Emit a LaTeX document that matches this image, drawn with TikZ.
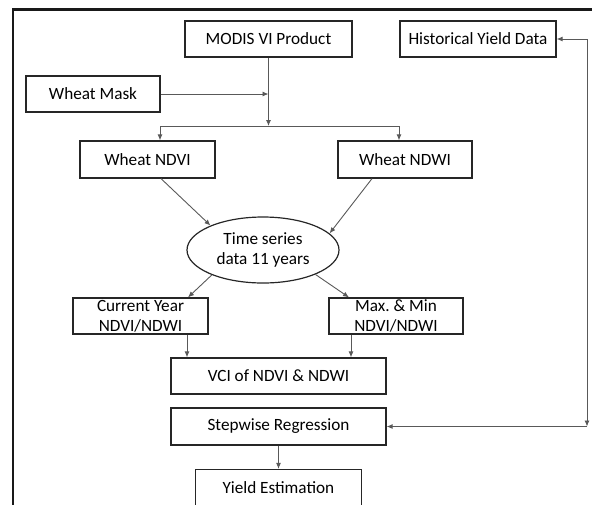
\documentclass[tikz,border=0pt]{standalone}
\usepackage{fontspec}
\setmainfont{Carlito}
\usetikzlibrary{arrows.meta,shapes.geometric}
\begin{document}
\begin{tikzpicture}[x=1pt,y=-1pt,
	every node/.style={font=\fontsize{17.2}{20}\selectfont,align=center,inner sep=0pt,draw=black!85,line width=1.2pt},
	box/.style={rectangle,minimum height=36pt},
	arr/.style={-{Latex[length=6pt,width=5pt]},draw=black!65,line width=0.9pt}]
		\clip (0,0) rectangle (592,504);
		\draw[line width=2.5pt,black!90] (13,9.5) rectangle (640,540);

		\node[box,minimum width=167pt] (modis) at (268.5,39)  {MODIS VI Product};
		\node[box,minimum width=156pt] (hist)  at (478,39)    {Historical Yield Data};
		\node[box,minimum width=134pt] (mask)  at (93,94)     {Wheat Mask};
		\node[box,minimum width=135pt,minimum height=37pt] (ndvi) at (147.5,159.5) {Wheat NDVI};
		\node[box,minimum width=134pt,minimum height=37pt] (ndwi) at (405,159.5)   {Wheat NDWI};
		\node[ellipse,minimum width=152pt,minimum height=66pt] (ts) at (263,250) {Time series\\data 11 years};
		\node[box,minimum width=135pt,inner ysep=-1pt] (cur) at (140.5,316) {Current Year\\NDVI/NDWI};
		\node[box,minimum width=134pt,inner ysep=-1pt] (mm)  at (396,316)   {Max.\ \& Min\\NDVI/NDWI};
		\node[box,minimum width=215pt] (vci)   at (278.5,376)   {VCI of NDVI \& NDWI};
		\node[box,minimum width=215pt,minimum height=37pt] (step)  at (278.5,426.5) {Stepwise Regression};
		\node[box,minimum width=166pt,minimum height=37pt] (yield) at (278.5,488)   {Yield Estimation};

		\coordinate (mj)    at (268.5,94);
		\coordinate (split) at (268.5,126);
		\coordinate (rtop)  at (587,39);
		\coordinate (rbot)  at (587,426.5);

		\foreach \from/\to in {mask/mj,modis/split,step/yield,rtop/hist,rtop/rbot,rbot/step}
			\draw[arr] (\from) -- (\to);
		\draw[arr] (split) -| ([xshift=12.5pt]ndvi.north);
		\draw[arr] (split) -| ([xshift=-6pt]ndwi.north);
		\draw[arr] ([xshift=13.5pt]ndvi.south) -- (ts.155);
		\draw[arr] ([xshift=-33pt]ndwi.south) -- (ts.14);
		\draw[arr] (ts.206) -- ([xshift=47.5pt]cur.north);
		\draw[arr] (ts.335) -- ([xshift=-47pt]mm.north);
		\draw[arr] ([xshift=46.5pt]cur.south) -- ([xshift=46.5pt]cur.south |- vci.north);
		\draw[arr] ([xshift=-45pt]mm.south) -- ([xshift=-45pt]mm.south |- vci.north);
\end{tikzpicture}
\end{document}
